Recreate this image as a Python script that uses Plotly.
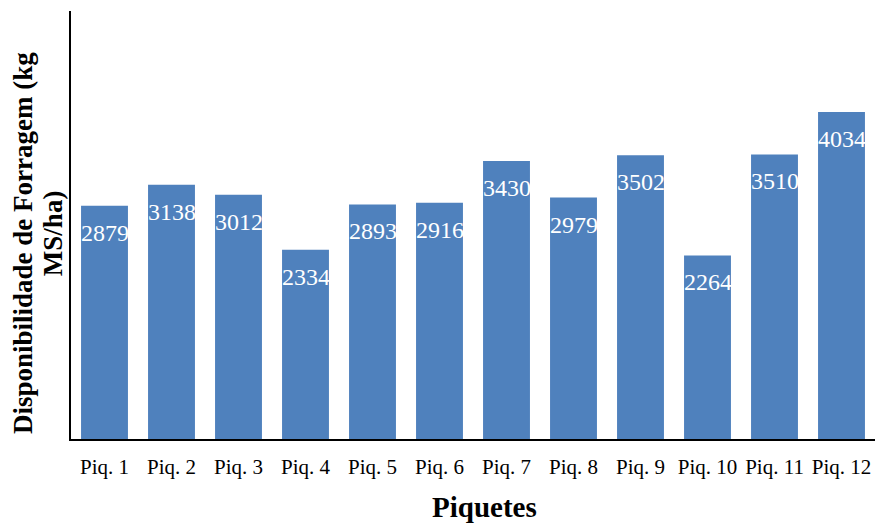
import plotly.graph_objects as go

# Forage availability per paddock (kg MS/ha)
piquetes = ["Piq. 1", "Piq. 2", "Piq. 3", "Piq. 4", "Piq. 5", "Piq. 6",
            "Piq. 7", "Piq. 8", "Piq. 9", "Piq. 10", "Piq. 11", "Piq. 12"]
forragem = [2879, 3138, 3012, 2334, 2893, 2916, 3430, 2979, 3502, 2264, 3510, 4034]

y_title_lines = ["Disponibilidade de Forragem (kg", "MS/ha)"]
x_title = "Piquetes"

SERIF = "Liberation Serif"
BAR_COLOR = "#4f81bd"

fig = go.Figure(
    go.Bar(
        x=piquetes,
        y=forragem,
        marker=dict(color=BAR_COLOR, line=dict(width=0)),
        hoverinfo="x+y",
    )
)

# value labels drawn just below the top of each bar
for cat, val in zip(piquetes, forragem):
    fig.add_annotation(
        x=cat, y=val, text=str(val), showarrow=False,
        yanchor="top", yshift=-12,
        font=dict(family=SERIF, size=24, color="white"),
    )

# vertical axis title, one annotation per line
for line, (xs, yp) in zip(y_title_lines, [(-48, 0.458), (-18, 0.481)]):
    fig.add_annotation(
        xref="paper", yref="paper", x=0, y=yp, xshift=xs,
        text=f"<b>{line}</b>", textangle=-90, showarrow=False,
        xanchor="center", yanchor="middle",
        font=dict(family=SERIF, size=27, color="black"),
    )

# horizontal axis title
fig.add_annotation(
    xref="paper", yref="paper", x=0.5, y=0, xshift=11, yshift=-68,
    text=f"<b>{x_title}</b>", showarrow=False,
    xanchor="center", yanchor="middle",
    font=dict(family=SERIF, size=29, color="black"),
)

fig.update_layout(
    width=875, height=523,
    margin=dict(l=71, r=0, t=11, b=84),
    plot_bgcolor="white", paper_bgcolor="white",
    bargap=0.3,
    showlegend=False,
    font=dict(family=SERIF, color="black"),
    xaxis=dict(
        showline=True, linecolor="black", linewidth=2,
        ticks="outside", ticklen=8, tickcolor="rgba(0,0,0,0)",
        tickfont=dict(family=SERIF, size=21, color="black"),
    ),
    yaxis=dict(
        range=[0, 5280],
        showline=True, linecolor="black", linewidth=2,
        showgrid=False, zeroline=False, showticklabels=False, ticks="",
    ),
)

fig.write_html("out.html")
